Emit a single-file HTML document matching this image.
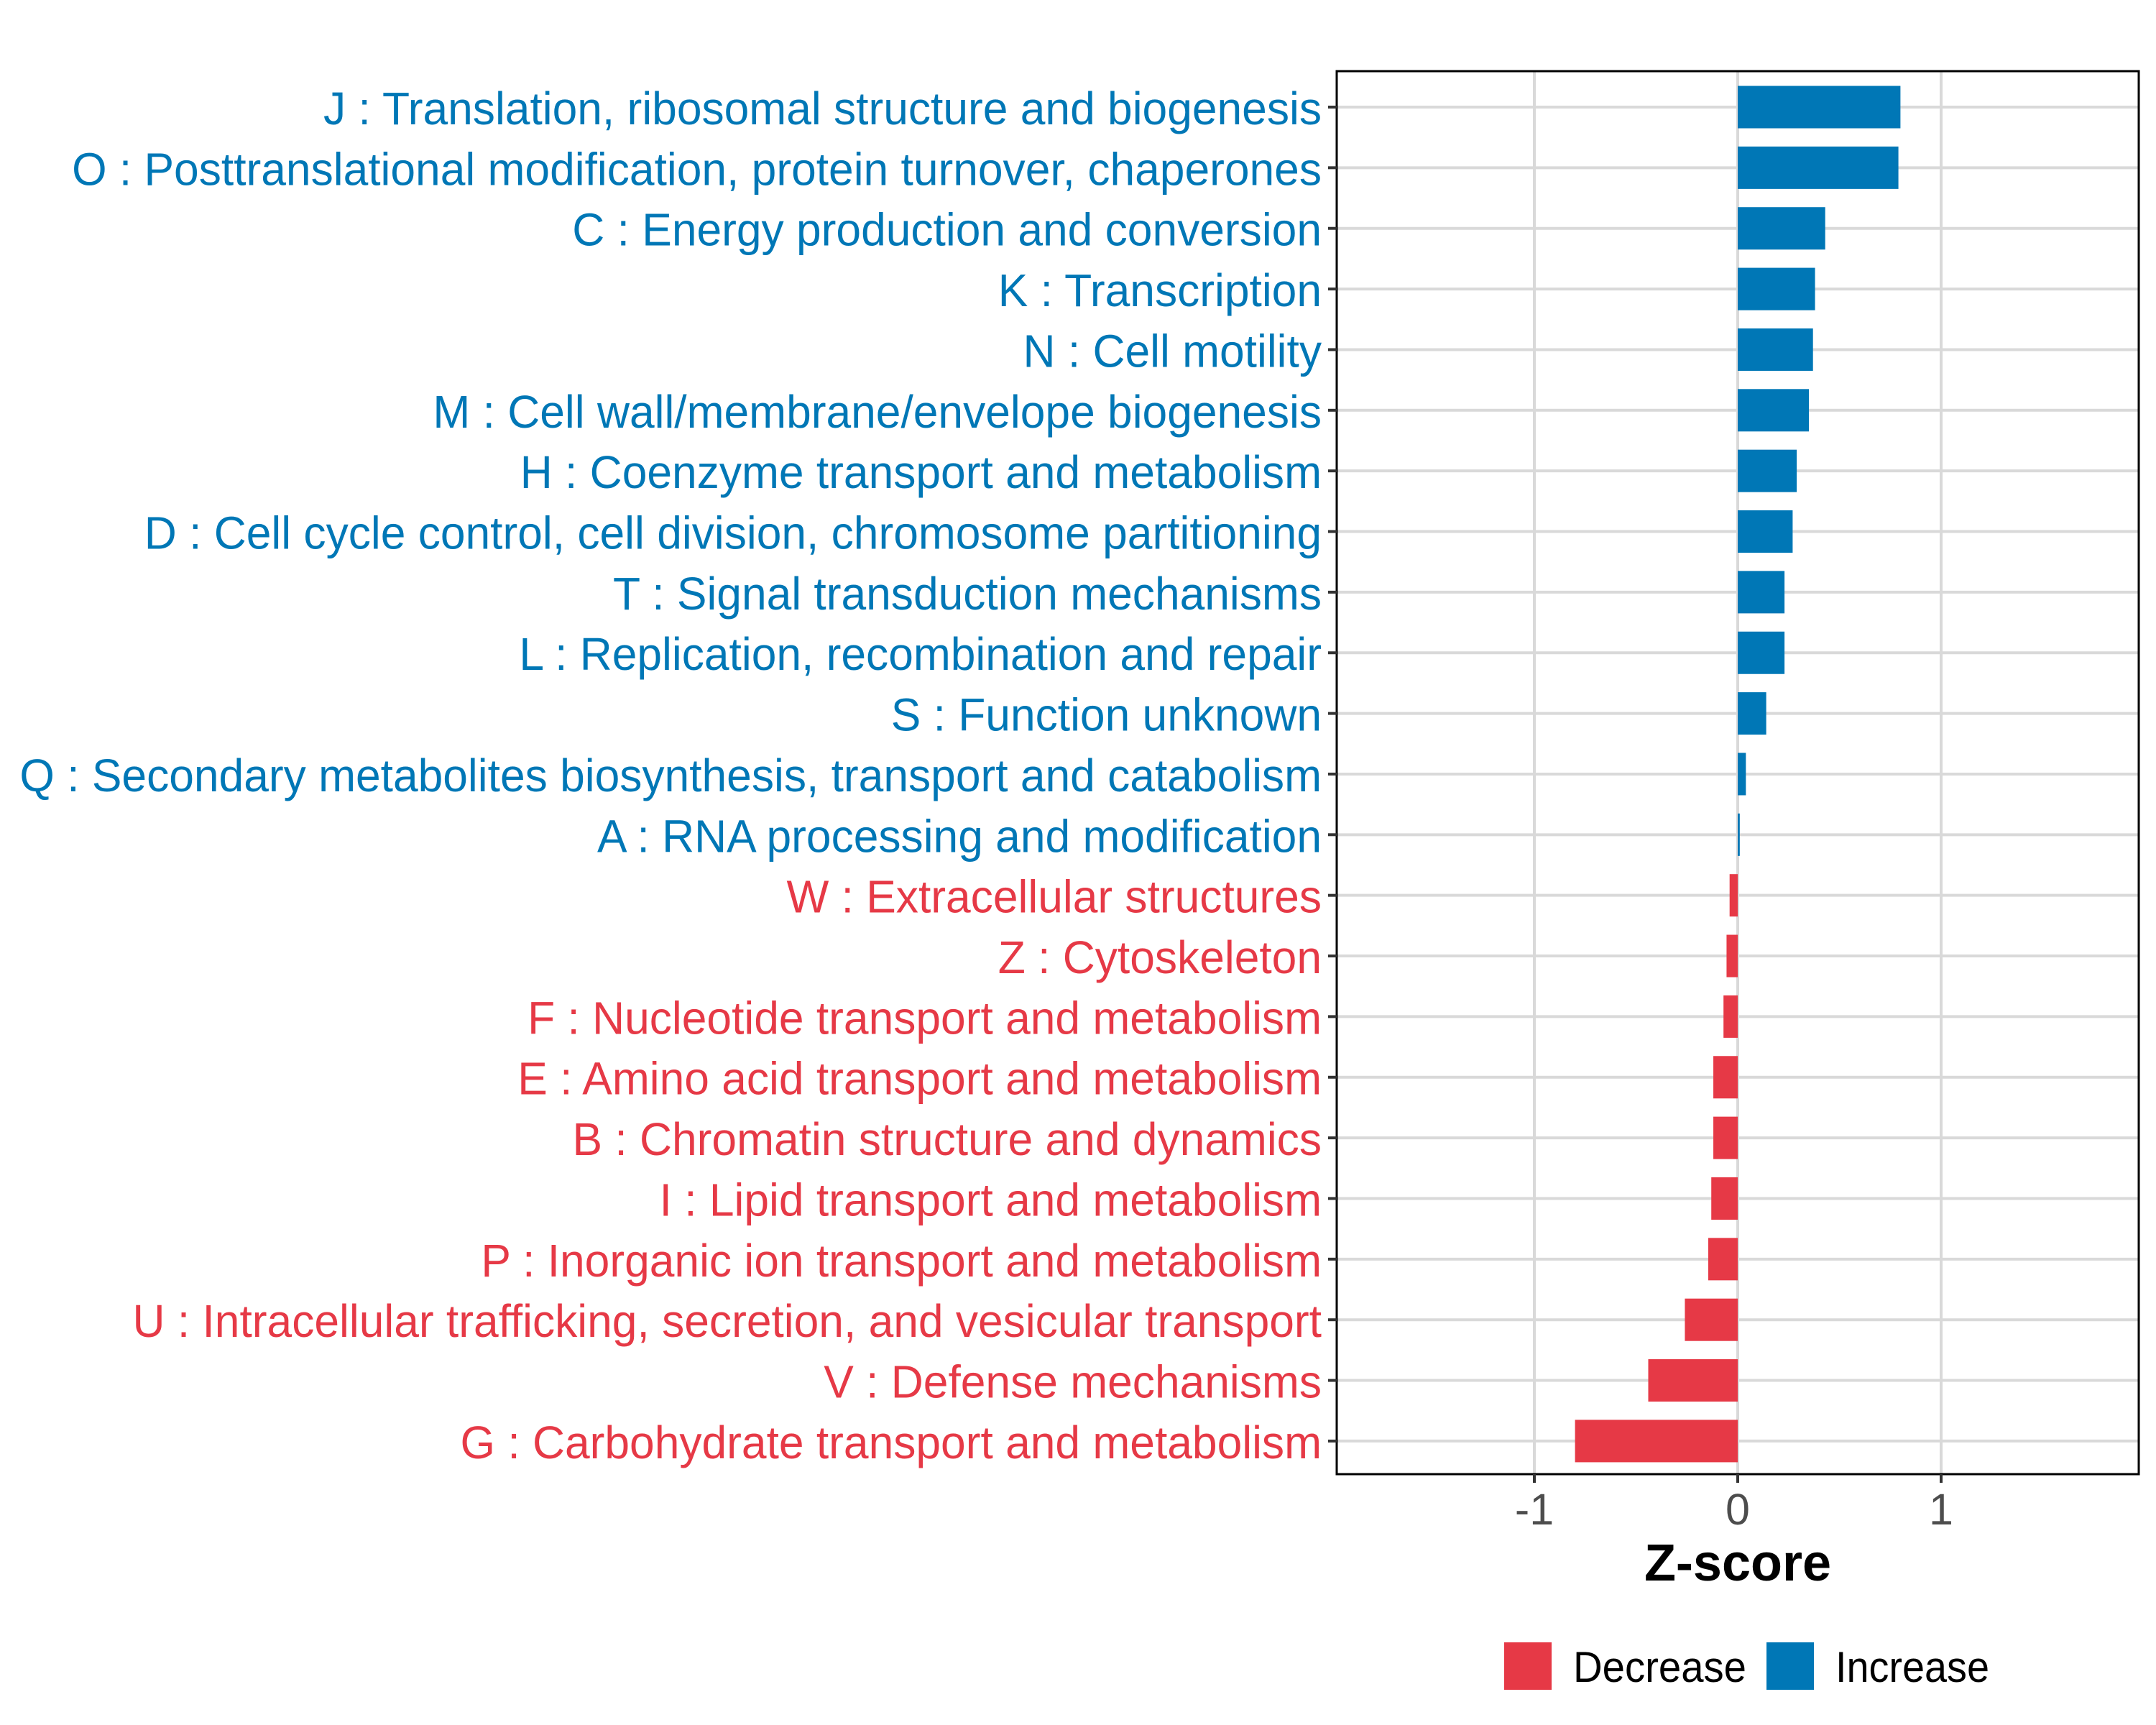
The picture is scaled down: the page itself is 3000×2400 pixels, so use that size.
<!DOCTYPE html>
<html><head><meta charset="utf-8"><style>
html,body{margin:0;padding:0;background:#fff;}
svg{display:block;font-family:"Liberation Sans",sans-serif;}
</style></head><body>
<svg id="chart" width="3000" height="2400" viewBox="0 0 3000 2400" xmlns="http://www.w3.org/2000/svg">
<rect width="3000" height="2400" fill="#fff"/>
<g id="grid"></g>
<g id="bars"></g>
<rect x="1860" y="99" width="1116" height="1952" fill="none" stroke="#000" stroke-width="3"/>
<g id="ylabels"></g>
<g id="xaxis"></g>
<text x="2418" y="2199" text-anchor="middle" font-size="72" font-weight="bold" fill="#000">Z-score</text>
<g>
<rect x="2093" y="2285" width="66" height="66" fill="#E63946"/>
<text x="2189" y="2340" font-size="60" textLength="241" lengthAdjust="spacingAndGlyphs" fill="#000">Decrease</text>
<rect x="2458" y="2285" width="66" height="66" fill="#0077B6"/>
<text x="2554" y="2340" font-size="60" textLength="214" lengthAdjust="spacingAndGlyphs" fill="#000">Increase</text>
</g>
</svg>
<script>
const categories = ["J : Translation, ribosomal structure and biogenesis","O : Posttranslational modification, protein turnover, chaperones","C : Energy production and conversion","K : Transcription","N : Cell motility","M : Cell wall/membrane/envelope biogenesis","H : Coenzyme transport and metabolism","D : Cell cycle control, cell division, chromosome partitioning","T : Signal transduction mechanisms","L : Replication, recombination and repair","S : Function unknown","Q : Secondary metabolites biosynthesis, transport and catabolism","A : RNA processing and modification","W : Extracellular structures","Z : Cytoskeleton","F : Nucleotide transport and metabolism","E : Amino acid transport and metabolism","B : Chromatin structure and dynamics","I : Lipid transport and metabolism","P : Inorganic ion transport and metabolism","U : Intracellular trafficking, secretion, and vesicular transport","V : Defense mechanisms","G : Carbohydrate transport and metabolism"];
const zscores = [0.80,0.79,0.43,0.38,0.37,0.35,0.29,0.27,0.23,0.23,0.14,0.04,0.01,-0.04,-0.055,-0.07,-0.12,-0.12,-0.13,-0.145,-0.26,-0.44,-0.80];
const xTicks = [-1,0,1];
const xTickLabels = ["-1","0","1"];

const NS="http://www.w3.org/2000/svg";
const L=1860,R=2976,T=99,B=2051;
const x0=2418, unit=283;
const xs=v=>x0+v*unit;
const rowStep=84.36, firstRow=149;
const ys=i=>firstRow+i*rowStep;
const barH=59;
const BLUE="#0077B6", RED="#E63946";
function mk(tag,attrs,parent){const e=document.createElementNS(NS,tag);for(const k in attrs)e.setAttribute(k,attrs[k]);parent.appendChild(e);return e;}
const grid=document.getElementById('grid'),bars=document.getElementById('bars'),yl=document.getElementById('ylabels'),xa=document.getElementById('xaxis');
xTicks.forEach((t,i)=>{
  const g=mk('line',{x1:xs(t),x2:xs(t),y1:T,y2:B,stroke:'#d9d9d9','stroke-width':4},grid);
  
  
  const tk=mk('line',{x1:xs(t),x2:xs(t),y1:B,y2:B+12,stroke:'#333','stroke-width':4},xa);
  
  
  const tl=mk('text',{x:xs(t),y:2121,'text-anchor':'middle','font-size':61,fill:'#4d4d4d'},xa);
  tl.textContent=xTickLabels[i];
  
  
});
categories.forEach((c,i)=>{
  const y=ys(i);
  const g=mk('line',{x1:L,x2:R,y1:y,y2:y,stroke:'#d9d9d9','stroke-width':4},grid);
  
  
  const tk=mk('line',{x1:L-12,x2:L,y1:y,y2:y,stroke:'#333','stroke-width':4},yl);
  
  
  const v=zscores[i];
  const col=v>=0?BLUE:RED;
  const b=mk('rect',{x:Math.min(xs(0),xs(v)),y:y-barH/2,width:Math.max(Math.abs(xs(v)-xs(0)),1),height:barH,fill:col},bars);
  
  
  const t=mk('text',{x:1839,y:y+24,'text-anchor':'end','font-size':64,fill:col},yl);
  t.textContent=c;
  
  
});
const labels=[...yl.querySelectorAll('text')];
const ref=labels[11].getComputedTextLength();
const k=ref>0?1812/ref:1;
labels.forEach(t=>{t.setAttribute('transform','translate(1839,0) scale('+k+',1) translate(-1839,0)');});
</script>
</body></html>
